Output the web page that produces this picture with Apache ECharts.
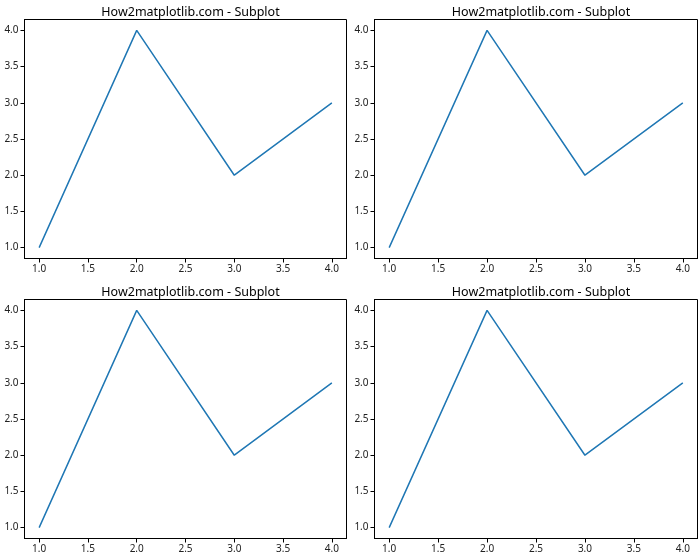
<!DOCTYPE html>
<html><head><meta charset="utf-8">
<script src="https://cdn.jsdelivr.net/npm/echarts@6/dist/echarts.min.js"></script>
<style>html,body{margin:0;padding:0;background:#fff}#c{width:700px;height:560px}</style>
</head><body><div id="c"></div>
<script>
var xValues = [1, 2, 3, 4];
var yValues = [1, 4, 2, 3];
var tickValues = [1.0, 1.5, 2.0, 2.5, 3.0, 3.5, 4.0];
var titleText = 'How2matplotlib.com - Subplot';

var chart = echarts.init(document.getElementById('c'), null, {renderer: 'canvas'});
var boxes = [
  {left: 24.5, top: 19.5, width: 322, height: 239},
  {left: 374.5, top: 19.5, width: 323, height: 239},
  {left: 24.5, top: 299.5, width: 322, height: 239},
  {left: 374.5, top: 299.5, width: 323, height: 239}
];
var FONT = 'Noto Sans';
var grids = [], xAxes = [], yAxes = [], series = [], titles = [];
boxes.forEach(function (b, i) {
  grids.push({left: b.left, top: b.top, width: b.width, height: b.height, show: true, borderColor: '#000', borderWidth: 1, backgroundColor: '#fff', containLabel: false});
  titles.push({text: titleText, left: b.left + b.width / 2, top: b.top - 19, textAlign: 'center',
    textStyle: {fontFamily: FONT, fontSize: 12.5, fontWeight: 'normal', color: '#000'}});
  var axisCommon = {
    type: 'value', gridIndex: i, min: 0.85, max: 4.15,
    axisLine: {show: true, onZero: false, lineStyle: {color: '#000', width: 1}},
    axisTick: {show: true, inside: false, length: 4, lineStyle: {color: '#000'}, customValues: tickValues},
    axisLabel: {show: true, customValues: tickValues, fontFamily: FONT, fontSize: 10, color: '#222', margin: 6,
      formatter: function (v) { return v.toFixed(1); }},
    splitLine: {show: false}
  };
  xAxes.push(Object.assign({}, axisCommon, {position: 'bottom'}));
  yAxes.push(Object.assign({}, axisCommon, {position: 'left'}));
  series.push({type: 'line', xAxisIndex: i, yAxisIndex: i, showSymbol: false, symbol: 'none',
    lineStyle: {color: '#1f77b4', width: 1.5}, itemStyle: {color: '#1f77b4'},
    data: xValues.map(function (x, k) { return [x, yValues[k]]; }), animation: false});
});
chart.setOption({animation: false, title: titles, grid: grids, xAxis: xAxes, yAxis: yAxes, series: series});
</script></body></html>
